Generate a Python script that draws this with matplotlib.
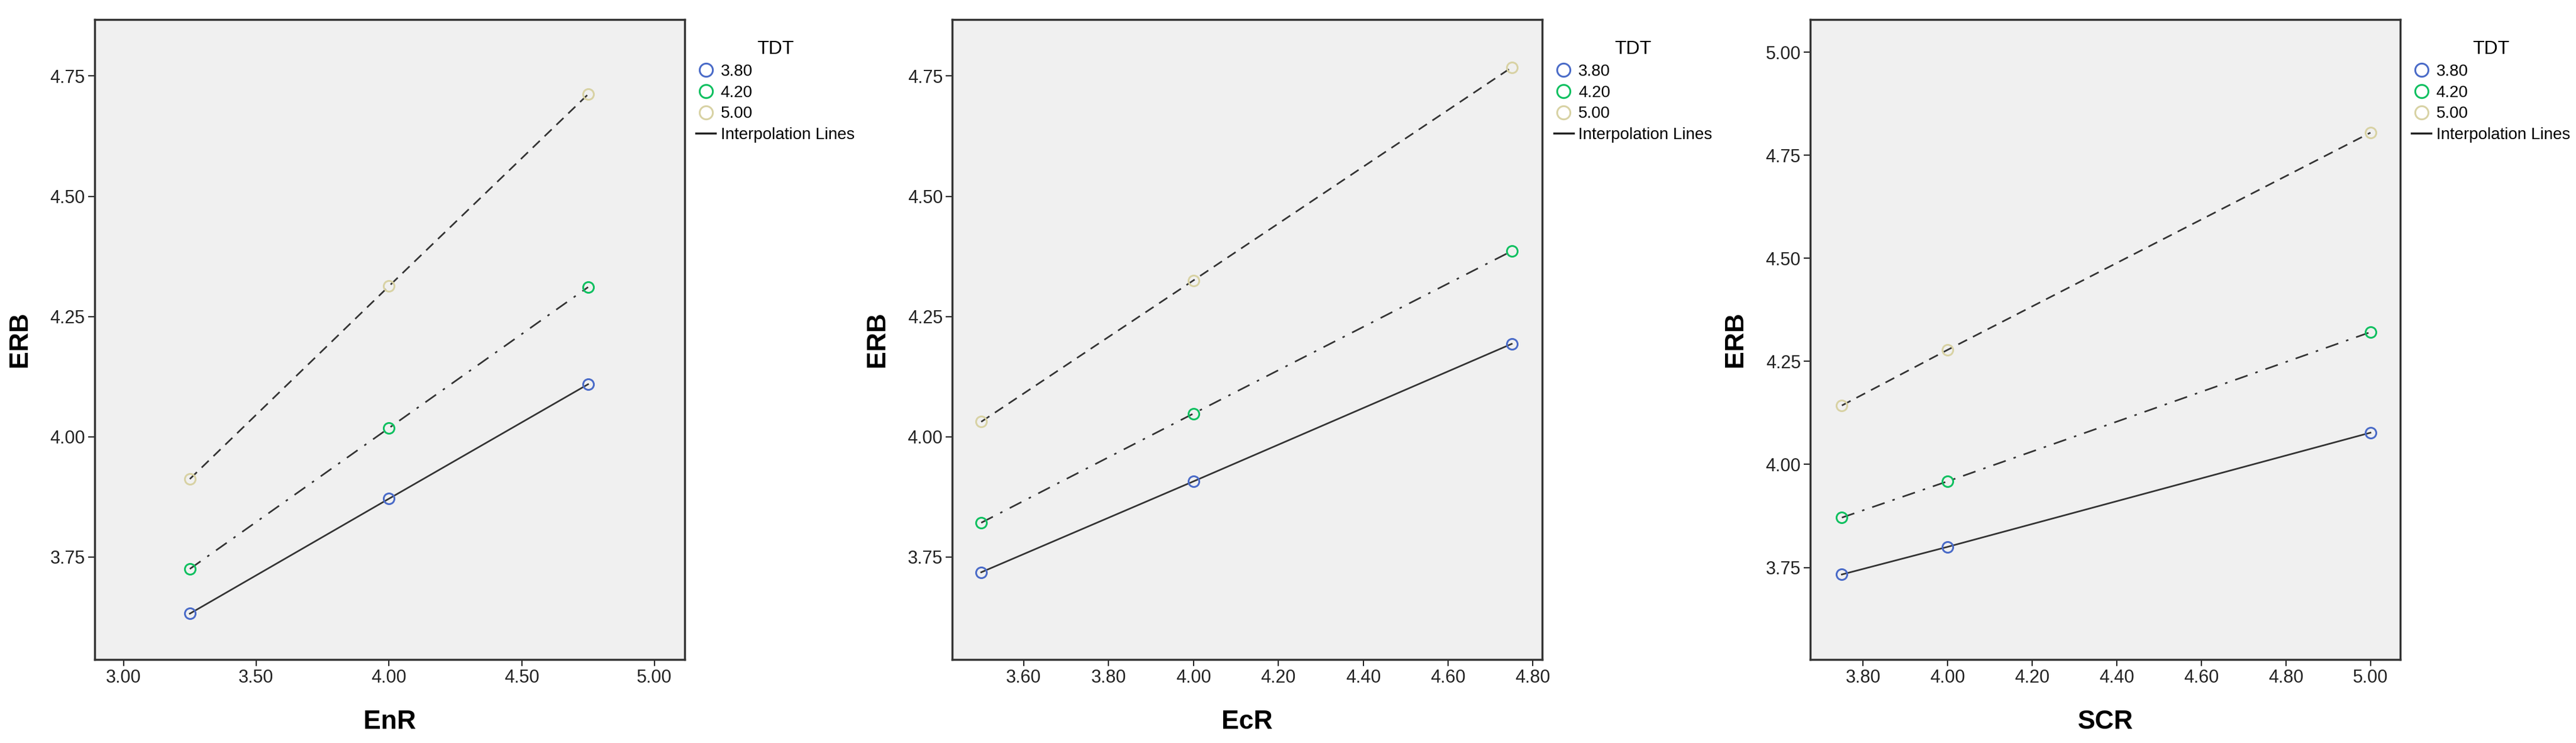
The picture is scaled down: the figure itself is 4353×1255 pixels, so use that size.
import matplotlib
matplotlib.use("Agg")
import matplotlib.pyplot as plt
from matplotlib.lines import Line2D

plt.rcParams['font.family'] = ['Liberation Sans', 'DejaVu Sans']

groups = ["3.80", "4.20", "5.00"]
colors = ["#4a6bc8", "#10c060", "#d8d2a4"]
styles = ["-", (0, (1.5, 0.6, 6, 0.6)), (0, (6, 3))]
styles = ["-", (0, (8, 5, 1.5, 5)), (0, (6, 4))]

x_enr = [3.25, 4.00, 4.75]
enr_38 = [3.632, 3.871, 4.109]
enr_42 = [3.725, 4.018, 4.311]
enr_50 = [3.912, 4.313, 4.712]

x_ecr = [3.50, 4.00, 4.75]
ecr_38 = [3.718, 3.907, 4.193]
ecr_42 = [3.821, 4.048, 4.386]
ecr_50 = [4.031, 4.325, 4.768]

x_scr = [3.75, 4.00, 5.00]
scr_38 = [3.733, 3.800, 4.077]
scr_42 = [3.871, 3.959, 4.321]
scr_50 = [4.143, 4.278, 4.805]

panels = [
    ("EnR", x_enr, [enr_38, enr_42, enr_50], (2.891, 5.113), (3.536, 4.868),
     [3.0, 3.5, 4.0, 4.5, 5.0], [3.75, 4.0, 4.25, 4.5, 4.75]),
    ("EcR", x_ecr, [ecr_38, ecr_42, ecr_50], (3.432, 4.822), (3.536, 4.868),
     [3.6, 3.8, 4.0, 4.2, 4.4, 4.6, 4.8], [3.75, 4.0, 4.25, 4.5, 4.75]),
    ("SCR", x_scr, [scr_38, scr_42, scr_50], (3.675, 5.070), (3.526, 5.080),
     [3.8, 4.0, 4.2, 4.4, 4.6, 4.8, 5.0], [3.75, 4.0, 4.25, 4.5, 4.75, 5.0]),
]
lefts = [0.0367, 0.3697, 0.7027]
w = 0.229

fig = plt.figure(figsize=(43.53, 12.55), dpi=100)
for (xl, xs, ys, xlim, ylim, xt, yt), l in zip(panels, lefts):
    ax = fig.add_axes([l, 0.112, w, 0.862])
    ax.set_facecolor("#f0f0f0")
    for y, c, ls in zip(ys, colors, styles):
        ax.plot(xs, y, color="#333333", lw=2.0, ls=ls, zorder=2)
        ax.plot(xs, y, ls="none", marker="o", ms=13, mfc="none", mec=c, mew=2.2, zorder=3)
    ax.set_xlim(*xlim); ax.set_ylim(*ylim)
    ax.set_xticks(xt); ax.set_xticklabels([f"{v:.2f}" for v in xt])
    ax.set_yticks(yt); ax.set_yticklabels([f"{v:.2f}" for v in yt])
    ax.tick_params(labelsize=22, length=8, width=1.5, colors="#222222")
    for s in ax.spines.values():
        s.set_linewidth(2.5); s.set_color("#333333")
    ax.set_xlabel(xl, fontsize=32, fontweight="bold", labelpad=28)
    ax.set_ylabel("ERB", fontsize=32, fontweight="bold", labelpad=22)
    handles = [Line2D([], [], ls="none", marker="o", ms=16, mfc="none", mec=c, mew=2.2) for c in colors]
    handles.append(Line2D([], [], color="#222222", lw=2.5))
    leg = ax.legend(handles, groups + ["Interpolation Lines"], title="TDT", loc="upper left",
                    bbox_to_anchor=(1.0, 0.985), frameon=False, fontsize=20, title_fontsize=23,
                    handlelength=1.2, handletextpad=0.3, labelspacing=0.35, borderaxespad=0.3)
    leg._legend_box.align = "center"
fig.savefig("out.png", dpi=100, facecolor="white")
